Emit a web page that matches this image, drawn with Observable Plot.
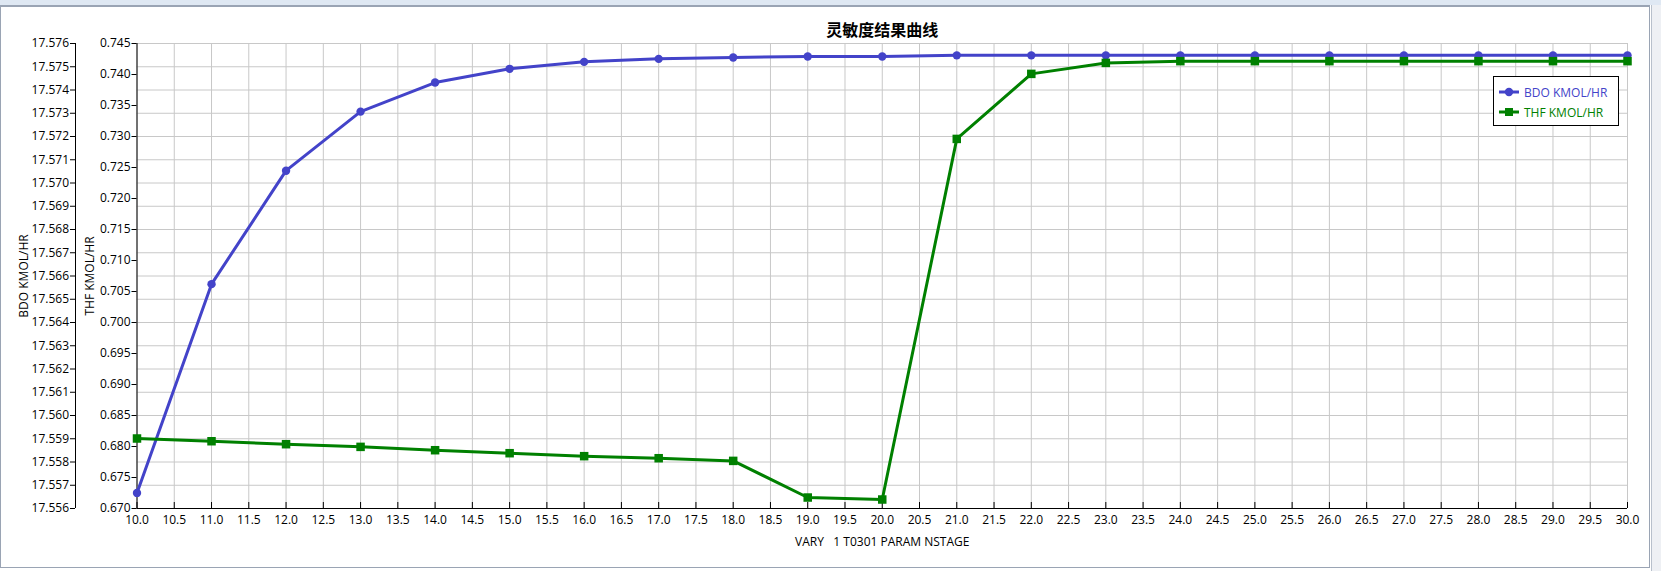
<!DOCTYPE html>
<html>
<head>
<meta charset="utf-8">
<script src="https://cdn.jsdelivr.net/npm/d3@7"></script>
<script src="https://cdn.jsdelivr.net/npm/@observablehq/plot@0.6"></script>
<style>
  html, body { margin: 0; padding: 0; background: #ffffff; }
  #wrap { position: relative; width: 1661px; height: 571px; overflow: hidden; font-family: "Open Sans", "Noto Sans", sans-serif; }
  #topstrip { position: absolute; left: 0; top: 0; width: 1661px; height: 5px; background: #dfe8f3; }
  #frame { position: absolute; left: 0; top: 5px; width: 1648px; height: 560px; border: 1px solid #9aa4b4; border-top: 2px solid #9aa4b4; pointer-events: none; }
  #rightbar { position: absolute; left: 1651px; top: 5px; width: 10px; height: 566px; background: #eef0f4; border-left: 1px solid #b8c0cc; }
  #chart { position: absolute; left: 0; top: 0; }
  #legend { position: absolute; left: 1493px; top: 76px; width: 124px; height: 48px; border: 1px solid #000; background: #fff; font-size: 12px; }
  .row { position: absolute; left: 5px; height: 20px; display: flex; align-items: center; }
  .row svg { margin-right: 5px; }
</style>
</head>
<body>
<div id="wrap">
  <div id="topstrip"></div>
  <div id="chart"></div>
  <div id="frame"></div>
  <div id="rightbar"></div>
  <div id="legend"></div>
</div>
<script>
// ---- data ----
const titleText = "灵敏度结果曲线";
const xLabel = "VARY\u00a0\u00a0\u00a01 T0301 PARAM NSTAGE";
const bdoLabel = "BDO KMOL/HR";
const thfLabel = "THF KMOL/HR";

const stages = [10, 11, 12, 13, 14, 15, 16, 17, 18, 19, 20, 21, 22, 23, 24, 25, 26, 27, 28, 29, 30];
const bdo = [17.55667, 17.56565, 17.57053, 17.57307, 17.57432, 17.57491, 17.57521, 17.57534, 17.57540, 17.57544, 17.57544,
             17.57549, 17.57549, 17.57549, 17.57549, 17.57549, 17.57549, 17.57549, 17.57549, 17.57549, 17.57549];
const thf = [0.68129, 0.68085, 0.68037, 0.67994, 0.67940, 0.67892, 0.67844, 0.67811, 0.67768, 0.67177, 0.67145,
             0.72961, 0.74010, 0.74187, 0.74215, 0.74215, 0.74215, 0.74215, 0.74215, 0.74215, 0.74215];

const xTicks = [10, 10.5, 11, 11.5, 12, 12.5, 13, 13.5, 14, 14.5, 15, 15.5, 16, 16.5, 17, 17.5, 18, 18.5, 19, 19.5, 20,
                20.5, 21, 21.5, 22, 22.5, 23, 23.5, 24, 24.5, 25, 25.5, 26, 26.5, 27, 27.5, 28, 28.5, 29, 29.5, 30];
const thfTicks = [0.670, 0.675, 0.680, 0.685, 0.690, 0.695, 0.700, 0.705, 0.710, 0.715, 0.720, 0.725, 0.730, 0.735, 0.740, 0.745];
const bdoTicks = [17.556, 17.557, 17.558, 17.559, 17.560, 17.561, 17.562, 17.563, 17.564, 17.565, 17.566,
                  17.567, 17.568, 17.569, 17.570, 17.571, 17.572, 17.573, 17.574, 17.575, 17.576];

const bdoColor = "#4343c9";
const thfColor = "#008000";

// ---- map BDO axis onto THF scale (secondary axis) ----
const thfDomain = [thfTicks[0], thfTicks[thfTicks.length - 1]];
const bdoDomain = [bdoTicks[0], bdoTicks[bdoTicks.length - 1]];
const toThf = d3.scaleLinear().domain(bdoDomain).range(thfDomain);

const rows = stages.map((s, i) => ({stage: s, bdo: toThf(bdo[i]), thf: thf[i]}));
const bdoTickPos = bdoTicks.map(v => toThf(v));

const chart = Plot.plot({
  width: 1661,
  height: 571,
  marginTop: 43,
  marginBottom: 63,
  marginLeft: 136.5,
  marginRight: 34,
  style: {fontFamily: "'Open Sans', 'Noto Sans', sans-serif", fontSize: "12px", background: "transparent", color: "#000"},
  x: {domain: [stages[0], stages[stages.length - 1]]},
  y: {domain: thfDomain},
  marks: [
    Plot.gridX(xTicks, {stroke: "#c8c8c8", strokeOpacity: 1}),
    Plot.gridY(bdoTickPos, {stroke: "#c8c8c8", strokeOpacity: 1}),
    // axis lines
    Plot.ruleX([stages[0]], {stroke: "#000"}),
    Plot.ruleX([stages[0]], {stroke: "#000", dx: -61.5}),
    Plot.ruleY([thfDomain[0]], {stroke: "#000"}),
    // x axis: inward ticks + labels
    Plot.axisX(xTicks, {tickSize: -6, tickFormat: () => "", label: null}),
    Plot.text(xTicks, {x: d => d, text: d => d.toFixed(1), frameAnchor: "bottom", dy: 15, fill: "#000"}),
    // THF axis (inner)
    Plot.axisY(thfTicks, {tickSize: 5, tickPadding: 1.5, tickFormat: d => d.toFixed(3), label: null}),
    // BDO axis (outer)
    Plot.axisY(bdoTickPos, {tickSize: 5, tickPadding: 1.5, dx: -61.5, tickFormat: d => toThf.invert(d).toFixed(3), label: null}),
    // axis titles
    Plot.text([bdoLabel], {frameAnchor: "left", textAnchor: "middle", rotate: -90, dx: -113, fill: "#000"}),
    Plot.text([thfLabel], {frameAnchor: "left", textAnchor: "middle", rotate: -90, dx: -46.5, fill: "#000"}),
    Plot.text([xLabel], {frameAnchor: "bottom", dy: 37, fill: "#000"}),
    Plot.text([titleText], {frameAnchor: "top", dy: -19, fontWeight: "bold", fontSize: 16, fill: "#000",
      fontFamily: "'Noto Sans CJK SC', sans-serif"}),
    // series
    Plot.line(rows, {x: "stage", y: "bdo", stroke: bdoColor, strokeWidth: 3}),
    Plot.dot(rows, {x: "stage", y: "bdo", fill: bdoColor, r: 4.2, stroke: null}),
    Plot.line(rows, {x: "stage", y: "thf", stroke: thfColor, strokeWidth: 3}),
    Plot.dot(rows, {x: "stage", y: "thf", fill: thfColor, symbol: "square", r: 4.8, stroke: null})
  ]
});
document.getElementById("chart").appendChild(chart);

// ---- legend ----
const legendItems = [
  {label: bdoLabel, color: bdoColor, shape: "circle", top: 5},
  {label: thfLabel, color: thfColor, shape: "square", top: 25}
];
const legend = document.getElementById("legend");
for (const it of legendItems) {
  const row = document.createElement("div");
  row.className = "row";
  row.style.top = it.top + "px";
  const marker = it.shape === "circle"
    ? `<circle cx="10" cy="6" r="4.2" fill="${it.color}"/>`
    : `<rect x="6" y="2" width="8" height="8" fill="${it.color}"/>`;
  row.innerHTML = `<svg width="20" height="12"><line x1="0" x2="20" y1="6" y2="6" stroke="${it.color}" stroke-width="3"/>${marker}</svg><span style="color:${it.color}">${it.label}</span>`;
  legend.appendChild(row);
}
</script>
</body>
</html>
